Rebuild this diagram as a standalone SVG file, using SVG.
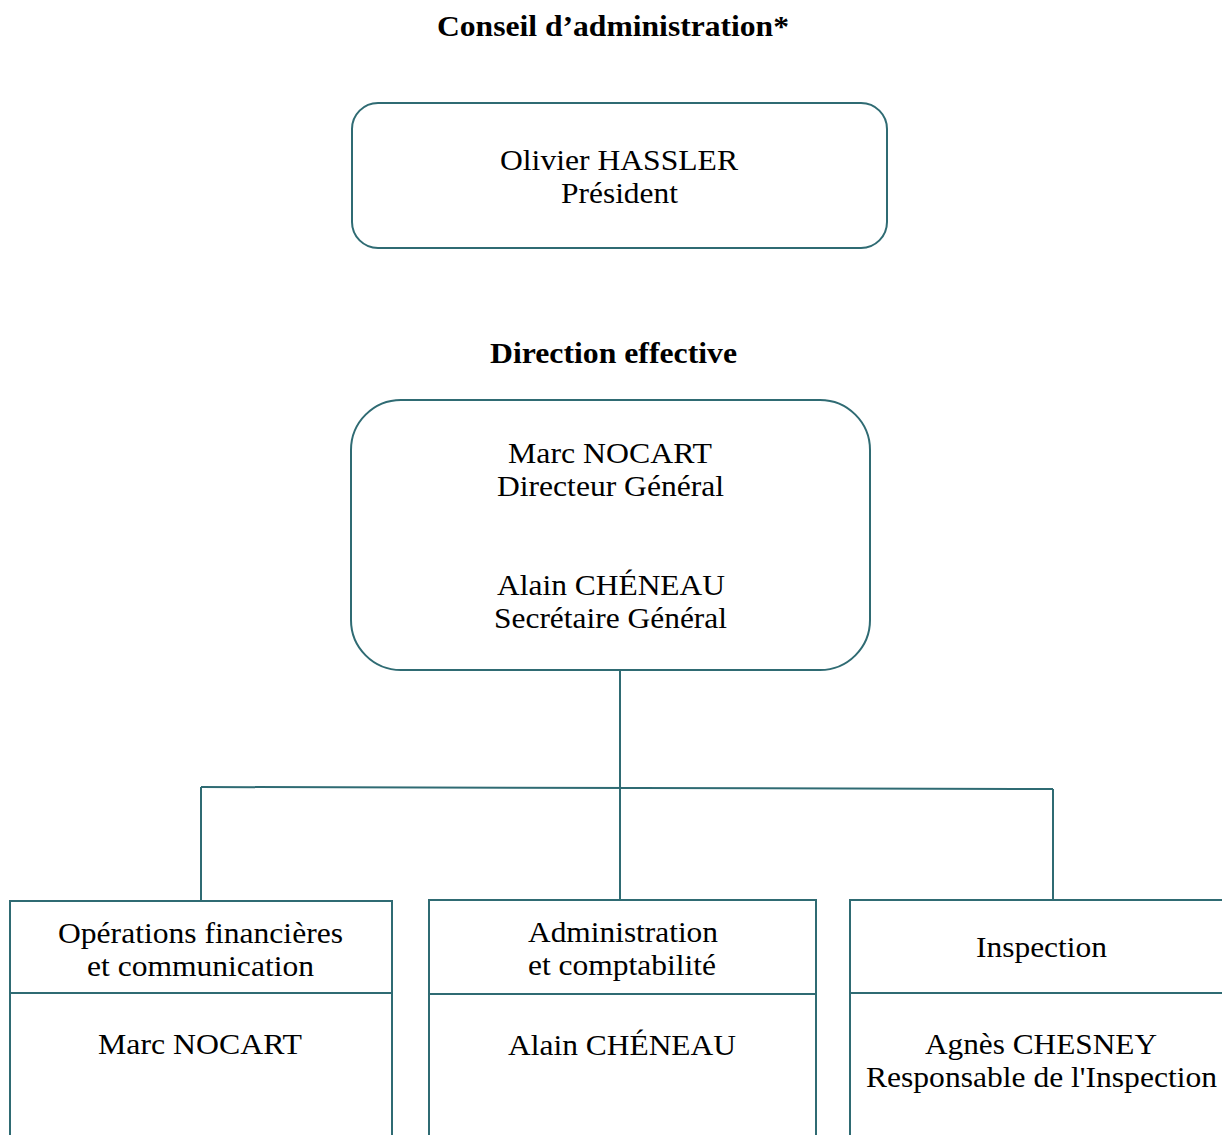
<svg xmlns="http://www.w3.org/2000/svg" width="1222" height="1135" viewBox="0 0 1222 1135">
<style>
.box{fill:#fff;stroke:#2f6b73;stroke-width:2}
.ln{fill:none;stroke:#2f6b73;stroke-width:2}
text{font-family:"Liberation Serif","Times New Roman",serif;font-size:29px;fill:#000;text-anchor:middle}
.h{font-weight:bold}
</style>
<rect width="1222" height="1135" fill="#fff"/>
<text class="h" x="613" y="36" textLength="352" lengthAdjust="spacingAndGlyphs">Conseil d’administration*</text>
<text class="h" x="613.5" y="363" textLength="247" lengthAdjust="spacingAndGlyphs">Direction effective</text>
<g id="connectors">
<path class="ln" d="M620 670 V900"/>
<path class="ln" d="M201 787 L1053 789"/>
<path class="ln" d="M201 787 V901"/>
<path class="ln" d="M1053 789 V900"/>
</g>
<g id="president">
<rect class="box" x="352" y="103" width="535" height="145" rx="26"/>
<text x="619" y="170" textLength="238" lengthAdjust="spacingAndGlyphs">Olivier HASSLER</text>
<text x="619.5" y="203" textLength="117" lengthAdjust="spacingAndGlyphs">Président</text>
</g>
<g id="direction">
<rect class="box" x="351" y="400" width="519" height="270" rx="50"/>
<text x="610" y="463" textLength="204" lengthAdjust="spacingAndGlyphs">Marc NOCART</text>
<text x="610.5" y="496" textLength="227" lengthAdjust="spacingAndGlyphs">Directeur Général</text>
<text x="611" y="595" textLength="228" lengthAdjust="spacingAndGlyphs">Alain CHÉNEAU</text>
<text x="610.5" y="628" textLength="233" lengthAdjust="spacingAndGlyphs">Secrétaire Général</text>
</g>
<g id="operations">
<rect class="box" x="10" y="901" width="382" height="250"/>
<path class="ln" d="M10 993 H392"/>
<text x="200.5" y="943" textLength="285" lengthAdjust="spacingAndGlyphs">Opérations financières</text>
<text x="200.5" y="976" textLength="227" lengthAdjust="spacingAndGlyphs">et communication</text>
<text x="200" y="1054" textLength="204" lengthAdjust="spacingAndGlyphs">Marc NOCART</text>
</g>
<g id="administration">
<rect class="box" x="429" y="900" width="387" height="250"/>
<path class="ln" d="M429 994 H816"/>
<text x="623" y="942" textLength="190" lengthAdjust="spacingAndGlyphs">Administration</text>
<text x="622" y="975" textLength="188" lengthAdjust="spacingAndGlyphs">et comptabilité</text>
<text x="622" y="1055" textLength="228" lengthAdjust="spacingAndGlyphs">Alain CHÉNEAU</text>
</g>
<g id="inspection">
<rect class="box" x="850" y="900" width="400" height="250"/>
<path class="ln" d="M850 993 H1222"/>
<text x="1041.5" y="957" textLength="131" lengthAdjust="spacingAndGlyphs">Inspection</text>
<text x="1041" y="1054" textLength="232" lengthAdjust="spacingAndGlyphs">Agnès CHESNEY</text>
<text x="1041.5" y="1087" textLength="351" lengthAdjust="spacingAndGlyphs">Responsable de l'Inspection</text>
</g>
</svg>
